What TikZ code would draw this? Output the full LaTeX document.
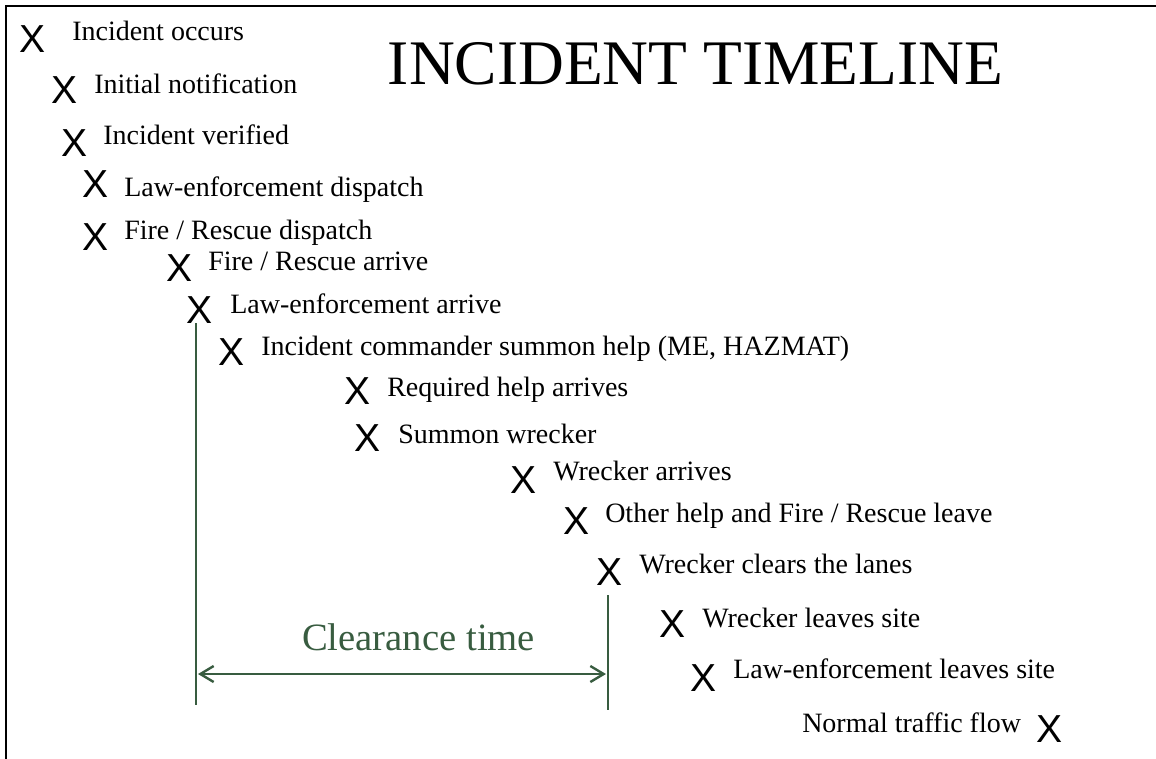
\documentclass[tikz,border=0pt]{standalone}
\usepackage{fontspec}
\setmainfont{Liberation Serif}
\newfontfamily\markfont{Liberation Sans}
\usetikzlibrary{arrows.meta}
\definecolor{cleargreen}{RGB}{56,92,64}
\tikzset{
  mark x/.style={inner sep=0pt, anchor=center, font=\markfont\fontsize{29.3}{31}\selectfont},
  event/.style={inner sep=0pt, anchor=base west, font=\fontsize{21}{24}\selectfont},
  frame line/.style={line width=1.5pt, black},
  span line/.style={line width=1.8pt, cleargreen},
}
\begin{document}
\begin{tikzpicture}[x=0.75pt, y=-0.75pt]
\useasboundingbox (0,0) rectangle (1156,759);
% frame: top and left edges
\draw[frame line] (6,759) -- (6,6.5) -- (1156,6.5);

% title
\node[inner sep=0pt, anchor=base, font=\fontsize{47.6}{50}\selectfont] (title) at (695.5,85) {INCIDENT TIMELINE};

% timeline events
\node[mark x] (x1) at (33,39) {X};
\node[event] (t1) at (72,41) {Incident occurs};
\node[mark x] (x2) at (65,90) {X};
\node[event] (t2) at (94,94) {Initial notification};
\node[mark x] (x3) at (75,143) {X};
\node[event] (t3) at (103,145) {Incident verified};
\node[mark x] (x4) at (96,184) {X};
\node[event] (t4) at (124,197) {Law-enforcement dispatch};
\node[mark x] (x5) at (96,237) {X};
\node[event] (t5) at (124,240) {Fire / Rescue dispatch};
\node[mark x] (x6) at (180,268) {X};
\node[event] (t6) at (208,271) {Fire / Rescue arrive};
\node[mark x] (x7) at (200,310) {X};
\node[event] (t7) at (230,313) {Law-enforcement arrive};
\node[mark x] (x8) at (232,352) {X};
\node[event] (t8) at (261,355) {Incident commander summon help (ME, HAZMAT)};
\node[mark x] (x9) at (358,391) {X};
\node[event] (t9) at (387,396) {Required help arrives};
\node[mark x] (x10) at (368,438) {X};
\node[event] (t10) at (398,443) {Summon wrecker};
\node[mark x] (x11) at (524,480) {X};
\node[event] (t11) at (553,480) {Wrecker arrives};
\node[mark x] (x12) at (577,521) {X};
\node[event] (t12) at (605,522) {Other help and Fire / Rescue leave};
\node[mark x] (x13) at (610,572) {X};
\node[event] (t13) at (639,573) {Wrecker clears the lanes};
\node[mark x] (x14) at (673,624) {X};
\node[event] (t14) at (702,627) {Wrecker leaves site};
\node[mark x] (x15) at (704,678) {X};
\node[event] (t15) at (733,678) {Law-enforcement leaves site};
\node[event] (t16) at (802,732) {Normal traffic flow};
\node[mark x] (x16) at (1050,729) {X};

% clearance interval
\coordinate (startTop) at (196,323);
\coordinate (startBot) at (196,705);
\coordinate (endTop) at (608,595);
\coordinate (endBot) at (608,710);
\coordinate (arrL) at (198,674);
\coordinate (arrR) at (606,674);
\draw[span line] (startTop) -- (startBot);
\draw[span line] (endTop) -- (endBot);
\draw[span line, {Straight Barb[length=10pt,width=12pt]}-{Straight Barb[length=10pt,width=12pt]}] (arrL) -- (arrR);
\node[inner sep=0pt, anchor=base, text=cleargreen, font=\fontsize{29}{32}\selectfont] (clear) at (418.5,650) {Clearance time};
\end{tikzpicture}
\end{document}
